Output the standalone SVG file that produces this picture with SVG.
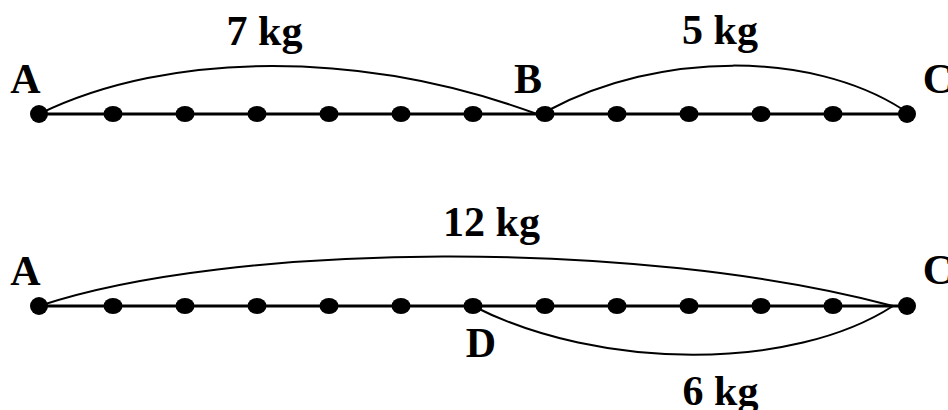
<svg xmlns="http://www.w3.org/2000/svg" width="948" height="410" viewBox="0 0 948 410">
<style>
text{font-family:"Liberation Serif","Times New Roman",serif;font-weight:bold;font-size:42px;fill:#000;text-anchor:middle}
.axis{stroke:#000;stroke-width:3;fill:none}
.arc{stroke:#000;stroke-width:2;fill:none}
.dot{fill:#000}
</style>
<rect width="948" height="410" fill="#fff"/>
<g id="connectors">
<line class="axis" x1="39" y1="114" x2="907" y2="114"/>
<line class="axis" x1="39" y1="306" x2="907" y2="306"/>
<path class="arc" d="M39,114 C170,50 363,50 537,114"/>
<path class="arc" d="M549,110 C660,51 811,51 902,109"/>
<path class="arc" d="M39,306 C230,242 640,238 893,306"/>
<path class="arc" d="M473,306 C600,371 793,371 893,306"/>
</g>
<g id="row1-dots">
<circle class="dot" cx="39" cy="114" r="9"/>
<ellipse class="dot" cx="113" cy="114" rx="9.5" ry="8"/>
<ellipse class="dot" cx="185" cy="114" rx="9.5" ry="8"/>
<ellipse class="dot" cx="257" cy="114" rx="9.5" ry="8"/>
<ellipse class="dot" cx="329" cy="114" rx="9.5" ry="8"/>
<ellipse class="dot" cx="401" cy="114" rx="9.5" ry="8"/>
<ellipse class="dot" cx="473" cy="114" rx="9.5" ry="8"/>
<ellipse class="dot" cx="545" cy="114" rx="9.5" ry="8"/>
<ellipse class="dot" cx="617" cy="114" rx="9.5" ry="8"/>
<ellipse class="dot" cx="689" cy="114" rx="9.5" ry="8"/>
<ellipse class="dot" cx="761" cy="114" rx="9.5" ry="8"/>
<ellipse class="dot" cx="833" cy="114" rx="9.5" ry="8"/>
<circle class="dot" cx="907" cy="114" r="9"/>
</g>
<g id="row2-dots">
<circle class="dot" cx="39" cy="306" r="9"/>
<ellipse class="dot" cx="113" cy="306" rx="9.5" ry="8"/>
<ellipse class="dot" cx="185" cy="306" rx="9.5" ry="8"/>
<ellipse class="dot" cx="257" cy="306" rx="9.5" ry="8"/>
<ellipse class="dot" cx="329" cy="306" rx="9.5" ry="8"/>
<ellipse class="dot" cx="401" cy="306" rx="9.5" ry="8"/>
<ellipse class="dot" cx="473" cy="306" rx="9.5" ry="8"/>
<ellipse class="dot" cx="545" cy="306" rx="9.5" ry="8"/>
<ellipse class="dot" cx="617" cy="306" rx="9.5" ry="8"/>
<ellipse class="dot" cx="689" cy="306" rx="9.5" ry="8"/>
<ellipse class="dot" cx="761" cy="306" rx="9.5" ry="8"/>
<ellipse class="dot" cx="833" cy="306" rx="9.5" ry="8"/>
<circle class="dot" cx="907" cy="306" r="9"/>
</g>
<g id="node-A1"><text x="25.5" y="93">A</text></g>
<g id="node-B"><text x="528" y="93">B</text></g>
<g id="node-C1"><text x="938" y="93">C</text></g>
<g id="node-A2"><text x="25.5" y="285">A</text></g>
<g id="node-C2"><text x="938" y="284">C</text></g>
<g id="node-D"><text x="481" y="357">D</text></g>
<g id="labels">
<text x="264.5" y="45">7 kg</text>
<text x="720" y="44">5 kg</text>
<text x="491.5" y="236">12 kg</text>
<text x="720.5" y="405">6 kg</text>
</g>
</svg>
